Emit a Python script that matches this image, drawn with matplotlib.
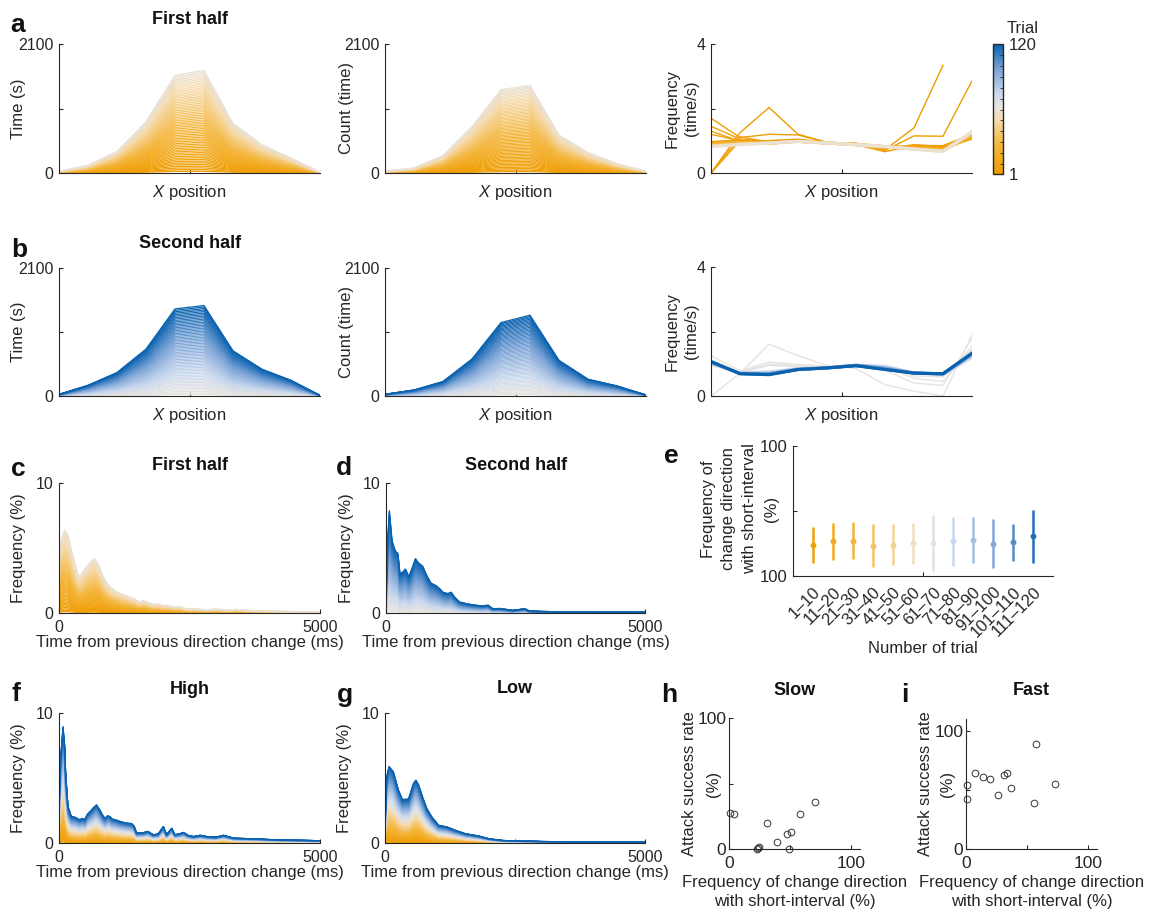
import numpy as np
import matplotlib
matplotlib.use("Agg")
import matplotlib.pyplot as plt
from matplotlib.colors import LinearSegmentedColormap, Normalize
from matplotlib.cm import ScalarMappable

plt.rcParams['font.family'] = ['Liberation Sans', 'DejaVu Sans']
plt.rcParams['mathtext.fontset'] = 'custom'
plt.rcParams['mathtext.it'] = 'Liberation Sans:italic'
plt.rcParams['mathtext.rm'] = 'Liberation Sans'

# ---------------- data ----------------
n_trials = 120
x_bins = list(range(10))

# cumulative totals at the end of each half (panels a, b)
time_first = [25, 124, 350, 835, 1590, 1670, 808, 458, 242, 10]
count_first = [27, 81, 285, 754, 1357, 1427, 619, 334, 151, 27]
time_second = [27, 176, 385, 770, 1429, 1484, 742, 440, 258, 10]
count_second = [28, 99, 238, 608, 1205, 1326, 586, 276, 166, 17]

# frequency (count / time) after selected trials
nan = float('nan')
freq_first_trials = [1, 2, 3, 4, 5, 6, 7, 10, 20, 30, 40, 50, 60]
freq_first = [
    [0.00, 1.25, 2.03, 1.20, 0.95, 0.92, 0.72, 1.40, 3.34, nan],
    [1.70, 1.10, 1.20, 1.18, 0.95, 0.92, 0.70, 1.15, 1.14, 2.86],
    [0.00, 1.00, 1.00, 1.05, 0.95, 0.88, 0.66, 0.85, 0.85, 1.20],
    [1.45, 1.05, 0.98, 1.02, 0.95, 0.90, 0.75, 0.88, 0.82, 1.10],
    [1.30, 0.98, 1.00, 1.03, 0.94, 0.90, 0.78, 0.84, 0.80, 1.15],
    [0.00, 1.12, 0.96, 1.00, 0.93, 0.89, 0.80, 0.82, 0.78, 1.05],
    [1.20, 1.00, 0.95, 1.00, 0.93, 0.88, 0.80, 0.80, 0.76, 1.20],
    [0.95, 1.00, 0.92, 1.00, 0.93, 0.89, 0.82, 0.80, 0.75, 1.10],
    [0.90, 0.95, 0.92, 0.99, 0.93, 0.88, 0.80, 0.78, 0.72, 1.15],
    [0.86, 0.92, 0.93, 0.98, 0.93, 0.88, 0.80, 0.76, 0.70, 1.20],
    [0.84, 0.90, 0.93, 0.98, 0.93, 0.88, 0.81, 0.75, 0.68, 1.24],
    [0.83, 0.89, 0.93, 0.98, 0.93, 0.88, 0.82, 0.74, 0.67, 1.27],
    [0.82, 0.88, 0.93, 0.98, 0.93, 0.88, 0.82, 0.74, 0.67, 1.29],
]
freq_second_trials = [61, 62, 63, 64, 70, 80, 90, 100, 110, 120]
freq_second = [
    [0.00, 0.70, 1.61, 1.25, 0.95, 0.85, 0.35, 0.15, 0.00, 1.89],
    [1.25, 0.78, 1.05, 0.98, 0.92, 0.90, 0.80, 0.40, 0.33, 1.79],
    [1.10, 0.75, 0.98, 0.95, 0.90, 0.92, 0.90, 0.55, 0.45, 1.55],
    [0.95, 0.72, 0.95, 0.90, 0.88, 0.92, 0.86, 0.62, 0.60, 1.45],
    [1.00, 0.72, 0.75, 0.85, 0.88, 0.95, 0.92, 0.72, 0.66, 1.20],
    [1.02, 0.71, 0.72, 0.84, 0.88, 0.96, 0.90, 0.72, 0.67, 1.25],
    [1.04, 0.70, 0.70, 0.83, 0.87, 0.95, 0.87, 0.71, 0.68, 1.28],
    [1.05, 0.70, 0.68, 0.83, 0.87, 0.95, 0.85, 0.71, 0.69, 1.30],
    [1.06, 0.69, 0.67, 0.82, 0.87, 0.94, 0.83, 0.71, 0.69, 1.32],
    [1.07, 0.69, 0.66, 0.82, 0.87, 0.94, 0.82, 0.71, 0.69, 1.33],
]

# interval histograms (%), final cumulative envelope
c_t = [0, 40, 110, 170, 230, 300, 360, 400, 460, 540, 620, 680, 740, 780, 840, 900,
       980, 1100, 1200, 1290, 1360, 1420, 1500, 1550, 1620, 1700, 1740, 1800, 1900,
       2000, 2060, 2200, 2300, 2380, 2500, 2600, 2700, 2850, 3000, 3200, 3400, 3600,
       3800, 4000, 4300, 4600, 5000]
c_v = [4.5, 5.6, 6.4, 6.0, 5.0, 3.9, 3.0, 2.8, 3.2, 3.6, 4.0, 4.2, 3.8, 3.5, 2.9, 2.4,
       2.0, 1.65, 1.45, 1.33, 1.2, 1.15, 0.95, 0.85, 0.95, 0.8, 0.77, 0.65, 0.7,
       0.55, 0.6, 0.45, 0.5, 0.38, 0.3, 0.32, 0.28, 0.25, 0.3, 0.22, 0.28, 0.2,
       0.18, 0.15, 0.12, 0.1, 0.08]
d_t = [0, 20, 65, 116, 160, 194, 230, 270, 335, 375, 440, 500, 568, 600, 645, 710,
       787, 870, 970, 1030, 1100, 1190, 1260, 1320, 1420, 1550, 1650, 1740, 1850,
       1970, 2060, 2200, 2450, 2680, 2770, 3000, 3300, 3600, 4000, 4400, 5000]
d_v = [1.5, 4.5, 7.9, 5.6, 5.0, 4.7, 4.6, 3.0, 3.2, 3.4, 2.8, 3.4, 4.2, 4.0, 3.8, 3.6,
       2.9, 2.3, 2.1, 1.9, 1.6, 1.5, 1.6, 1.24, 0.85, 0.72, 0.65, 0.6, 0.55,
       0.6, 0.33, 0.35, 0.2, 0.33, 0.15, 0.12, 0.1, 0.08, 0.07, 0.06, 0.05]
f_t = [0, 30, 77, 110, 128, 173, 237, 300, 397, 450, 494, 540, 600, 654, 718, 782,
       830, 878, 930, 974, 1020, 1070, 1167, 1230, 1295, 1391, 1440, 1487, 1615,
       1700, 1808, 1900, 2000, 2060, 2160, 2220, 2300, 2385, 2470, 2577, 2705,
       2833, 3000, 3154, 3346, 3550, 3795, 3987, 4200, 4500, 4800, 5000]
f_v = [3.0, 6.5, 9.0, 7.5, 5.4, 2.8, 2.05, 2.0, 1.8, 1.9, 1.8, 2.2, 2.45, 2.7, 2.95,
       2.56, 2.2, 1.9, 2.1, 2.05, 1.85, 1.8, 1.67, 1.6, 1.54, 1.5, 1.3, 0.77, 0.8,
       0.9, 0.64, 0.7, 1.28, 0.64, 1.15, 0.65, 0.7, 0.82, 0.6, 0.5, 0.6, 0.5,
       0.45, 0.6, 0.38, 0.35, 0.32, 0.28, 0.25, 0.22, 0.2, 0.18]
g_t = [0, 32, 77, 161, 258, 335, 452, 548, 594, 645, 723, 806, 903, 1032, 1194,
       1355, 1548, 1806, 2000, 2258, 2645, 3000, 3500, 4000, 4500, 5000]
g_v = [1.5, 5.1, 5.9, 5.5, 4.1, 3.35, 3.4, 4.6, 4.85, 4.5, 3.55, 2.65, 2.0, 1.37,
       1.24, 0.98, 0.72, 0.54, 0.33, 0.2, 0.15, 0.12, 0.1, 0.08, 0.07, 0.06]

# panel e: short-interval frequency per block of 10 trials
e_labels = ['1–10', '11–20', '21–30', '31–40', '41–50', '51–60', '61–70',
            '71–80', '81–90', '91–100', '101–110', '111–120']
e_mean = [23.8, 27.0, 27.0, 23.3, 24.1, 25.1, 25.1, 26.9, 27.9, 24.9, 25.9, 30.8]
e_low = [10.0, 12.5, 13.0, 7.2, 8.5, 9.0, 4.1, 7.7, 10.0, 6.2, 11.5, 10.0]
e_high = [37.7, 41.0, 41.5, 39.7, 39.7, 40.5, 46.7, 45.1, 45.1, 43.8, 40.0, 50.8]

# panels h, i: individual players
slow_x = [0.8, 4.1, 22.7, 23.8, 24.9, 31.4, 38.8, 47.3, 50.8, 49.2, 58.2, 69.9]
slow_y = [27.8, 26.6, 0.3, 0.8, 1.8, 19.5, 5.3, 11.4, 13.2, 0.3, 26.6, 36.2]
fast_x = [1.1, 1.1, 7.5, 13.5, 19.9, 26.0, 31.2, 33.7, 36.5, 56.9, 55.2, 72.9]
fast_y = [42.3, 53.8, 64.5, 60.6, 59.2, 45.9, 62.8, 64.2, 51.5, 88.5, 39.2, 55.2]

# ---------------- styling ----------------
W, H = 1152, 914
AX = '#262626'
cmap = LinearSegmentedColormap.from_list('trial', [
    (0.0, '#EF9C00'), (0.22, '#F4B63C'), (0.42, '#F6DCB0'), (0.52, '#E6E4E2'),
    (0.62, '#CBD9EE'), (0.8, '#7EA5D8'), (1.0, '#0A62AF')])


def tcol(t):
    return cmap((t - 1) / (n_trials - 1))


fig = plt.figure(figsize=(W / 100, H / 100), dpi=100)


def add_ax(x0, x1, ytop, ybot):
    return fig.add_axes([x0 / W, 1 - ybot / H, (x1 - x0) / W, (ybot - ytop) / H])


def style(ax):
    for s in ['top', 'right']:
        ax.spines[s].set_visible(False)
    for s in ['left', 'bottom']:
        ax.spines[s].set_color(AX)
        ax.spines[s].set_linewidth(0.8)
    ax.tick_params(direction='in', length=3, width=0.8, colors=AX,
                   labelsize=11.5, pad=4)
    ax.tick_params(axis='x', pad=5)


def ylab(ax, text, xc, spacing=1.4):
    ax.set_ylabel(text, fontsize=12, color=AX, linespacing=spacing)
    ax.yaxis.set_label_coords(xc, 0.5)


def ylab_lines(lines, xs_px, yc_px):
    # multi-line vertical label, one text per line
    for txt, xp in zip(lines, xs_px):
        fig.text(xp / W, 1 - yc_px / H, txt, rotation=90, fontsize=12,
                 color=AX, ha='center', va='center')


def xlab(ax, text, yc):
    ax.set_xlabel(text, fontsize=12, color=AX, linespacing=1.3)
    ax.xaxis.set_label_coords(0.5, yc)


def stack(ax, xs, env, trials, lw):
    env = np.asarray(env, dtype=float)
    n = len(trials)
    for j, t in enumerate(trials):
        ax.plot(xs, env * (j + 1) / n, color=tcol(t), lw=lw,
                solid_joinstyle='miter')


def position_axes(ax, ymax, ylabel, yc):
    style(ax)
    ax.set_xlim(0, 9)
    ax.set_ylim(0, ymax)
    ax.set_xticks([4.5])
    ax.set_xticklabels([''])
    ax.set_yticks([0, ymax / 2, ymax])
    ax.set_yticklabels(['0', '', f'{ymax:g}'])
    ylab(ax, ylabel, yc)
    xlab(ax, r'$\it{X}$ position', -0.08)


first = list(range(1, 61))
second = list(range(61, 121))
every = list(range(1, 121))

# ----- row a -----
a1 = add_ax(59, 320, 44, 173)
stack(a1, x_bins, time_first, first, 0.9)
position_axes(a1, 2100, 'Time (s)', -0.125)
a2 = add_ax(385, 646, 44, 173)
stack(a2, x_bins, count_first, first, 0.9)
position_axes(a2, 2100, 'Count (time)', -0.12)
a3 = add_ax(711, 972, 44, 173)
for t, vals in zip(freq_first_trials, freq_first):
    a3.plot(x_bins, vals, color=tcol(t), lw=1.0 if t < 10 else 2.2)
position_axes(a3, 4, 'Frequency\n(time/s)', -0.045)

# colorbar
cax = add_ax(993, 1003, 44, 174)
cb = fig.colorbar(ScalarMappable(norm=Normalize(1, 120), cmap=cmap), cax=cax)
cb.outline.set_linewidth(1.0)
cb.outline.set_edgecolor(AX)
cb.set_ticks([1, 120])
cb.set_ticklabels(['1', '120'])
cax.yaxis.set_ticks(np.arange(10, 120, 10), minor=True)
cax.tick_params(which='major', length=0, labelsize=12, colors=AX, pad=4)
cax.tick_params(which='minor', direction='in', length=2.5, width=0.6, colors=AX)
fig.text(1007 / W, 1 - 33 / H, 'Trial', fontsize=12, color=AX, ha='left',
         va='baseline')

# ----- row b -----
b1 = add_ax(59, 320, 268, 396)
stack(b1, x_bins, time_second, second, 0.9)
position_axes(b1, 2100, 'Time (s)', -0.125)
b2 = add_ax(385, 646, 268, 396)
stack(b2, x_bins, count_second, second, 0.9)
position_axes(b2, 2100, 'Count (time)', -0.12)
b3 = add_ax(711, 972, 267, 396)
for t, vals in zip(freq_second_trials, freq_second):
    b3.plot(x_bins, vals, color=tcol(t), lw=1.0 if t < 70 else 2.2)
position_axes(b3, 4, 'Frequency\n(time/s)', -0.045)


def hist_axes(ax):
    style(ax)
    ax.set_xlim(0, 5000)
    ax.set_ylim(0, 10)
    ax.set_xticks([0, 2500, 5000])
    ax.set_xticklabels(['0', '', '5000'])
    ax.set_yticks([0, 5, 10])
    ax.set_yticklabels(['0', '', '10'])
    ylab(ax, 'Frequency (%)', -0.125)
    xlab(ax, 'Time from previous direction change (ms)', -0.17)


# ----- row c/d -----
c = add_ax(59, 320, 483, 613)
stack(c, c_t, c_v, first, 0.9)
hist_axes(c)
d = add_ax(386, 645, 483, 613)
stack(d, d_t, d_v, second, 0.9)
hist_axes(d)

# ----- panel e -----
e = add_ax(793, 1053, 446, 576)
style(e)
pos = np.arange(1, len(e_labels) + 1)
for p, m, lo, hi, i in zip(pos, e_mean, e_low, e_high, range(len(e_labels))):
    col = tcol(i * 10 + 5)
    e.plot([p, p], [lo, hi], color=col, lw=1.8, solid_capstyle='butt')
    e.plot(p, m, 'o', color=col, ms=3.2, mec=col)
e.set_xlim(0, 13)
e.set_ylim(0, 100)
e.set_xticks(pos)
e.set_xticklabels(e_labels, rotation=45, ha='right', va='top',
                  rotation_mode='anchor', fontsize=12)
e.set_xticks([6.5], minor=True)
e.tick_params(axis='x', which='major', length=0, pad=6)
e.tick_params(axis='x', which='minor', direction='in', length=3, width=0.8,
              colors=AX)
e.set_yticks([0, 50, 100])
e.set_yticklabels(['100', '', '100'], fontsize=12)
ylab_lines(['Frequency of', 'change direction', 'with short-interval', '(%)'],
           [708, 729, 750, 771], 509)
xlab(e, 'Number of trial', -0.5)

# ----- row f/g -----
f = add_ax(59, 320, 713, 843)
stack(f, f_t, f_v, every, 0.8)
hist_axes(f)
g = add_ax(385, 645, 713, 843)
stack(g, g_t, g_v, every, 0.8)
hist_axes(g)


def scatter_axes(ax, xs, ys, ymax, label_x):
    style(ax)
    ax.plot(xs, ys, 'o', mfc='none', mec='#333333', ms=4.8, mew=0.7,
            clip_on=False)
    ax.set_xlim(0, 107)
    ax.set_ylim(0, ymax)
    ax.set_xticks([0, 50, 100])
    ax.set_xticklabels(['0', '', '100'])
    ax.set_yticks([0, 50, 100])
    ax.set_yticklabels(['0', '', '100'])
    ax.tick_params(labelsize=12.5)
    ax.tick_params(axis='y', pad=2)
    ylab_lines(['Attack success rate', '(%)'], label_x, 784)
    xlab(ax, 'Frequency of change direction\nwith short-interval (%)', -0.2)


h = add_ax(729, 860, 718, 849)
scatter_axes(h, slow_x, slow_y, 100, [690, 713])
i_ax = add_ax(966, 1097, 719, 849)
scatter_axes(i_ax, fast_x, fast_y, 110, [925, 948])

# ----- titles and panel letters -----
titles = [('First half', 190, 24), ('Second half', 190, 248),
          ('First half', 190, 470), ('Second half', 516, 470),
          ('High', 190, 694), ('Low', 515, 693), ('Slow', 795, 695),
          ('Fast', 1031, 695)]
for txt, xp, yp in titles:
    fig.text(xp / W, 1 - yp / H, txt, fontsize=13, fontweight='bold',
             ha='center', va='baseline', color='#111111')

letters = [('a', 18, 32), ('b', 19, 257), ('c', 18, 476), ('d', 344, 475),
           ('e', 671, 463), ('f', 16, 701), ('g', 345, 702), ('h', 669, 702),
           ('i', 905, 702)]
for txt, xp, yp in letters:
    fig.text(xp / W, 1 - yp / H, txt, fontsize=19, fontweight='bold',
             ha='center', va='baseline', color='#111111')

fig.savefig('out.png', dpi=100, facecolor='white')
